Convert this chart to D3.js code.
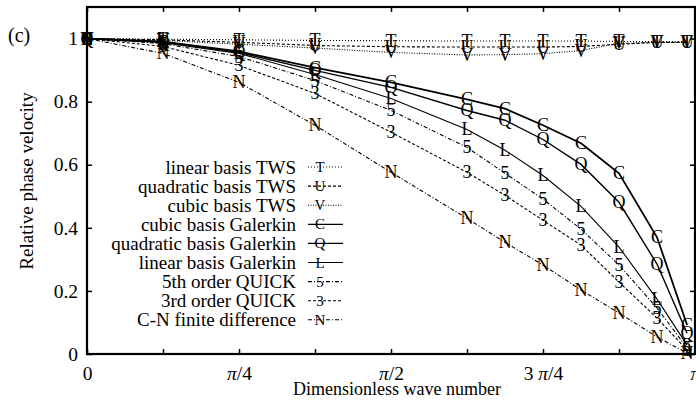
<!DOCTYPE html>
<html>
<head>
<meta charset="utf-8">
<script src="https://cdn.jsdelivr.net/npm/d3@7/dist/d3.min.js"></script>
<style>
  html, body { margin: 0; padding: 0; background: #fff; }
  svg { display: block; font-family: "Liberation Serif", "DejaVu Serif", serif; }
</style>
</head>
<body>
<svg id="chart" width="696" height="406"></svg>
<script>
// Dimensionless wave number, in multiples of π
const waveNumber = [0, 0.125, 0.25, 0.375, 0.5, 0.625, 0.6875, 0.75, 0.8125, 0.875, 0.9375, 0.987];

// Relative phase velocity for each scheme
const linearTWS       = [1, 0.998, 0.996, 0.994, 0.993, 0.992, 0.992, 0.992, 0.992, 0.991, 0.990, 0.990];
const quadraticTWS    = [1, 0.996, 0.988, 0.978, 0.974, 0.973, 0.973, 0.973, 0.975, 0.982, 0.988, 0.988];
const cubicTWS        = [1, 0.994, 0.982, 0.970, 0.956, 0.948, 0.949, 0.952, 0.962, 0.985, 0.988, 0.988];
const cubicGalerkin   = [1, 0.990, 0.959, 0.908, 0.861, 0.807, 0.778, 0.725, 0.668, 0.573, 0.370, 0.092];
const quadGalerkin    = [1, 0.990, 0.956, 0.899, 0.845, 0.772, 0.741, 0.680, 0.601, 0.481, 0.285, 0.066];
const linearGalerkin  = [1, 0.987, 0.953, 0.886, 0.810, 0.712, 0.646, 0.566, 0.468, 0.339, 0.174, 0.028];
const quick5          = [1, 0.984, 0.943, 0.867, 0.772, 0.655, 0.573, 0.491, 0.396, 0.282, 0.146, 0.019];
const quick3          = [1, 0.975, 0.915, 0.826, 0.703, 0.576, 0.503, 0.424, 0.345, 0.228, 0.114, 0.013];
const crankNicolson   = [1, 0.953, 0.861, 0.725, 0.576, 0.430, 0.354, 0.282, 0.203, 0.130, 0.054, 0.003];

const seriesLabels = ["linear basis TWS", "quadratic basis TWS", "cubic basis TWS",
  "cubic basis Galerkin", "quadratic basis Galerkin", "linear basis Galerkin",
  "5th order QUICK", "3rd order QUICK", "C-N finite difference"];
const seriesSymbols = ["T", "U", "V", "C", "Q", "L", "5", "3", "N"];
const seriesValues = [linearTWS, quadraticTWS, cubicTWS, cubicGalerkin, quadGalerkin,
  linearGalerkin, quick5, quick3, crankNicolson];

const xTickValues = [0, 0.125, 0.25, 0.375, 0.5, 0.625, 0.75, 0.875, 1];
const xTickLabels = { 0: "0", 0.25: "π/4", 0.5: "π/2", 0.75: "3 π/4", 1: "π" };
const yTickValues = [0, 0.2, 0.4, 0.6, 0.8, 1];

// line styling per scheme
const lineStyles = [
  { dash: "1,2",      width: 1.1 },
  { dash: "3,2",      width: 1.1 },
  { dash: "1,1.5",    width: 1.1 },
  { dash: null,       width: 1.8 },
  { dash: null,       width: 1.4 },
  { dash: null,       width: 1.1 },
  { dash: "4,2,1,2",  width: 1.1 },
  { dash: "3,2",      width: 1.1 },
  { dash: "4,2,1,2",  width: 1.1 }
];

const svg = d3.select("#chart");
const plotL = 87, plotR = 695, plotT = 7, plotB = 354;

const x = d3.scaleLinear().domain([0, 1]).range([plotL, plotR]);
const y = d3.scaleLinear().domain([0, 1.1]).range([plotB, plotT]);

// frame
svg.append("rect")
  .attr("x", plotL).attr("y", plotT)
  .attr("width", plotR - plotL).attr("height", plotB - plotT)
  .attr("fill", "none").attr("stroke", "#000").attr("stroke-width", 2.2);

// axes with inward ticks
const fs = "19.5px";
const xAxisB = d3.axisBottom(x).tickValues(xTickValues).tickSize(-5)
  .tickFormat(d => xTickLabels[d] !== undefined ? xTickLabels[d] : "").tickPadding(12);
const gxb = svg.append("g").attr("transform", `translate(0,${plotB})`).call(xAxisB);
const xAxisT = d3.axisTop(x).tickValues(xTickValues).tickSize(-5).tickFormat("");
const gxt = svg.append("g").attr("transform", `translate(0,${plotT})`).call(xAxisT);
const yAxisL = d3.axisLeft(y).tickValues(yTickValues).tickSize(-5)
  .tickFormat(d => d3.format("~g")(d)).tickPadding(9);
const gyl = svg.append("g").attr("transform", `translate(${plotL},0)`).call(yAxisL);
const yAxisR = d3.axisRight(y).tickValues(yTickValues).tickSize(-5).tickFormat("");
const gyr = svg.append("g").attr("transform", `translate(${plotR},0)`).call(yAxisR);

[gxb, gxt, gyl, gyr].forEach(g => {
  g.select(".domain").remove();
  g.selectAll(".tick line").attr("stroke", "#000").attr("stroke-width", 1.5);
  g.selectAll("text").attr("fill", "#000").style("font-size", fs)
    .style("font-family", "Liberation Serif");
});

// set the π in the bottom tick labels in italic
gxb.selectAll(".tick text").each(function () {
  const t = d3.select(this);
  const label = t.text();
  if (!label.includes("π")) return;
  t.text(null);
  label.split(/(π)/).filter(p => p.length).forEach(part => {
    t.append("tspan")
      .style("font-style", part === "π" ? "italic" : "normal")
      .text(part);
  });
});

// axis titles
svg.append("text")
  .attr("x", 397).attr("y", 395)
  .attr("text-anchor", "middle")
  .style("font-size", "18px")
  .text("Dimensionless wave number");
svg.append("text")
  .attr("transform", "translate(33,181) rotate(-90)")
  .attr("text-anchor", "middle")
  .style("font-size", "19px")
  .text("Relative phase velocity");
svg.append("text")
  .attr("x", 8).attr("y", 42)
  .style("font-size", "20px")
  .text("(c)");

// curves
const line = d3.line()
  .x((d, i) => x(waveNumber[i]))
  .y(d => y(d));

seriesValues.forEach((vals, s) => {
  const st = lineStyles[s];
  svg.append("path")
    .datum(vals)
    .attr("d", line)
    .attr("fill", "none")
    .attr("stroke", "#000")
    .attr("stroke-width", st.width)
    .attr("stroke-dasharray", st.dash);
});

// letter markers
seriesValues.forEach((vals, s) => {
  svg.append("g").selectAll("text")
    .data(vals)
    .join("text")
    .attr("x", (d, i) => x(waveNumber[i]))
    .attr("y", d => y(d))
    .attr("text-anchor", "middle")
    .attr("dominant-baseline", "central")
    .style("font-size", "18px")
    .text(seriesSymbols[s]);
});

// legend
const legY0 = 167, legStep = 19.1;
const leg = svg.append("g");
seriesLabels.forEach((lab, s) => {
  const yy = legY0 + s * legStep;
  const st = lineStyles[s];
  leg.append("text")
    .attr("x", 296).attr("y", yy)
    .attr("text-anchor", "end")
    .attr("dominant-baseline", "central")
    .style("font-size", "19px")
    .text(lab);
  leg.append("line")
    .attr("x1", 308).attr("x2", 343)
    .attr("y1", yy).attr("y2", yy)
    .attr("stroke", "#000")
    .attr("stroke-width", Math.min(st.width, 1.3))
    .attr("stroke-dasharray", st.dash);
  leg.append("text")
    .attr("x", 320).attr("y", yy)
    .attr("text-anchor", "middle")
    .attr("dominant-baseline", "central")
    .style("font-size", "15px")
    .text(seriesSymbols[s]);
});
</script>
</body>
</html>
